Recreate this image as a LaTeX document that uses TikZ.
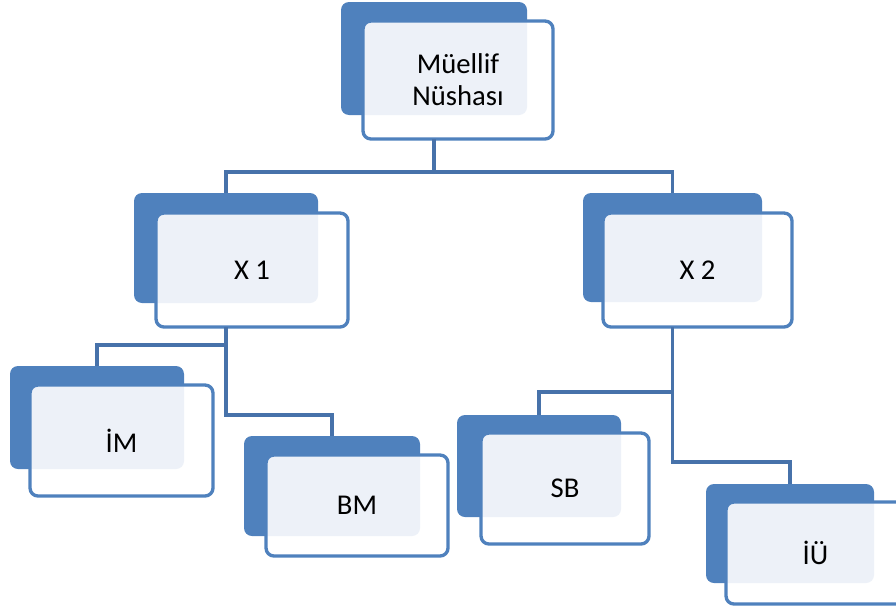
\documentclass[tikz,border=0pt]{standalone}
\usepackage{fontspec}
\setmainfont{Carlito}
\usetikzlibrary{fit}
\definecolor{boxblue}{HTML}{4F81BD}
\definecolor{lineblue}{HTML}{4772AA}
\definecolor{lightfill}{HTML}{EDF1F8}
\tikzset{
  backbox/.style={fill=boxblue, rounded corners=6pt, inner sep=0pt, draw=none},
  frontbox/.style={fill=white, rounded corners=6pt, inner sep=0pt, draw=none},
  frontline/.style={draw=boxblue, line width=2.5pt, rounded corners=6pt},
  lbl/.style={font=\fontsize{21.5}{24}\selectfont, align=center, text=black, inner sep=0pt},
  conn/.style={draw=lineblue, line width=2.9pt},
}
\newcommand\orgpair[9]{%
  \node[backbox, fit={(#2,#3) (#4,#5)}] (#1b) {};
  \node[frontbox, fit={(#6,#7) (#8,#9)}] (#1) {};
  \begin{scope}
    \clip[rounded corners=6pt] (#6,#7) rectangle (#8,#9);
    \fill[lightfill, rounded corners=6pt] (#2,#3) rectangle (#4,#5);
  \end{scope}
  \draw[frontline] (#6,#7) rectangle (#8,#9);
}
\begin{document}
\begin{tikzpicture}[x=0.75pt, y=-0.75pt]
\useasboundingbox (0,0) rectangle (896,607);
\clip (0,0) rectangle (896,607);
\coordinate (ry) at (0,172);
\coordinate (ay) at (0,345);
\coordinate (by) at (0,415);
\coordinate (cy) at (0,392);
\coordinate (dy) at (0,462);

\orgpair{root}{341}{2}{527}{115}{363}{21}{553}{139}
\orgpair{xa}{134}{193}{318}{303}{156}{213}{348}{327}
\orgpair{xb}{583}{193}{762}{302}{603}{213}{792}{327}
\orgpair{im}{10}{366}{184}{469}{30}{385}{213}{496}
\orgpair{bm}{244}{436}{420}{536}{266}{455}{448}{556}
\orgpair{sb}{457}{415}{621}{517}{481}{433}{649}{544}
\orgpair{iu}{706}{484}{874}{583}{726}{502}{905}{604}

\node[lbl] (roott) at (root.center) {Müellif\\Nüshası};
\node[lbl] (xat) at (xa.center) {X 1};
\node[lbl] (xbt) at (xb.center) {X 2};
\node[lbl] (imt) at (im.center) {İM};
\node[lbl] (bmt) at (bm.center) {BM};
\node[lbl] (sbt) at (sb.center) {SB};
\node[lbl] (iut) at (iu.center) {İÜ};

\draw[conn] (rootb.south |- root.south) -- (rootb.south |- ry) -| (xab.north);
\draw[conn] (rootb.south |- ry) -| (xbb.north);
\draw[conn] (xab.south |- xa.south) -- (xab.south |- by) -| (bmb.north);
\draw[conn] (xab.south |- ay) -| (imb.north);
\draw[conn] (xbb.south |- xb.south) -- (xbb.south |- dy) -| (iub.north);
\draw[conn] (xbb.south |- cy) -| (sbb.north);
\end{tikzpicture}
\end{document}
